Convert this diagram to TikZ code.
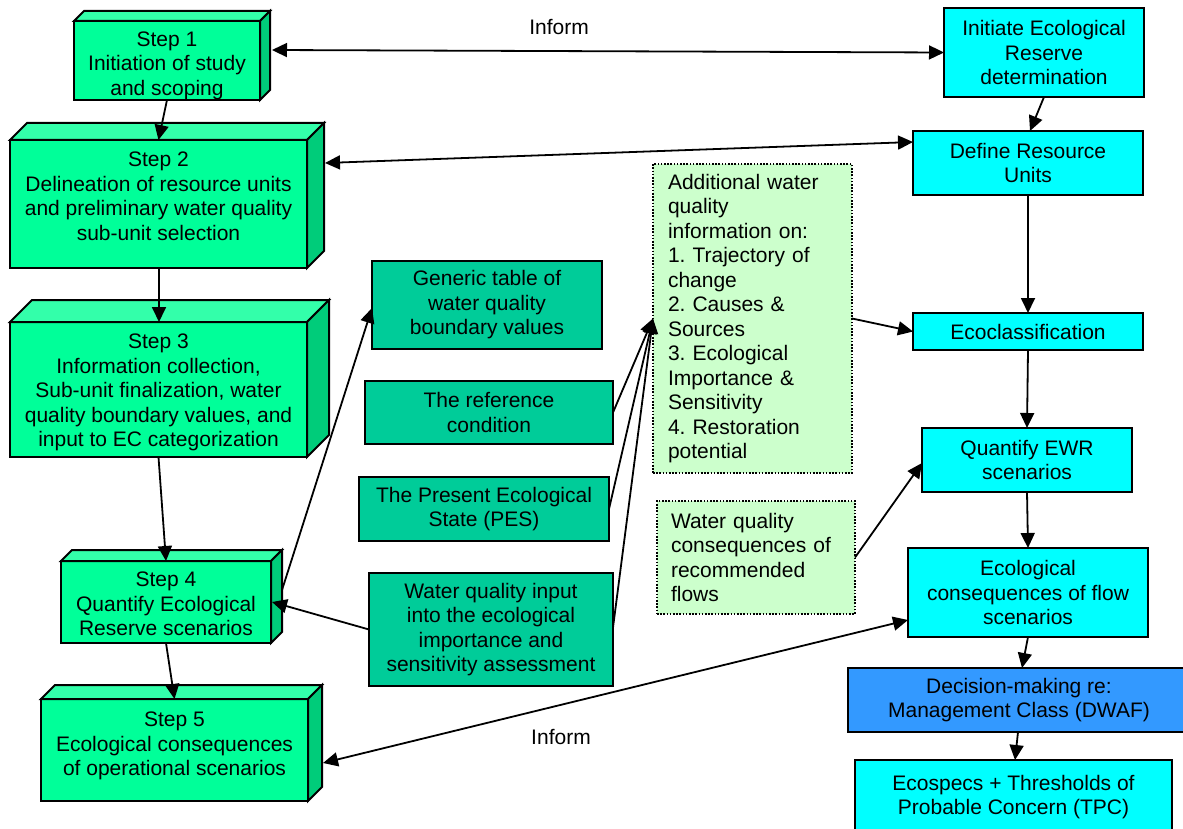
\documentclass[tikz,border=0pt]{standalone}
\usepackage{fontspec}
\setmainfont{Liberation Sans}
\usetikzlibrary{arrows.meta}
\definecolor{stepfront}{HTML}{00FF99}
\definecolor{steptop}{HTML}{33FFAA}
\definecolor{stepside}{HTML}{00CC7A}
\definecolor{midgreen}{HTML}{00CC99}
\definecolor{lightgreen}{HTML}{CCFFCC}
\definecolor{cyanbox}{HTML}{00FFFF}
\definecolor{bluebox}{HTML}{3399FF}
\newcommand\drawdepth[2]{%
  \draw[line width=2pt, fill=steptop] (#1.north west) -- ++(#2,-#2) -- ([shift={(#2,-#2)}]#1.north east) -- (#1.north east) -- cycle;
  \draw[line width=2pt, fill=stepside] (#1.north east) -- ++(#2,-#2) -- ([shift={(#2,-#2)}]#1.south east) -- (#1.south east) -- cycle;
}
\frenchspacing
\begin{document}
\begin{tikzpicture}[x=1pt,y=-1pt,
  every node/.style={font=\fontsize{21}{24.5}\selectfont, inner sep=0pt, outer sep=0pt},
  box/.style={draw=black, line width=2pt, align=center},
  stepbox/.style={box, fill=stepfront},
  steptext/.style={align=center},
  midbox/.style={box, fill=midgreen},
  cyanb/.style={box, fill=cyanbox},
  blueb/.style={box, fill=bluebox},
  notebox/.style={draw=black, line width=1.6pt, dash pattern=on 1.6pt off 1.6pt, fill=lightgreen, align=left},
  conn/.style={line width=1.8pt, >={Triangle[length=15pt,width=14pt]}},
  lbl/.style={font=\fontsize{21}{24}\selectfont}
]
\fill[white] (0,0) rectangle (1183,829);
\useasboundingbox (0,0) rectangle (1183,829);

% Step boxes (left column)
\node[stepbox, minimum width=186pt, minimum height=79pt] (s1) at (167,60.5) {};
\drawdepth{s1}{10}
\node[steptext] (s1t) at (167,65.5) {Step 1\\Initiation of study\\and scoping};
\node[stepbox, minimum width=297pt, minimum height=128pt] (s2) at (158.5,204) {};
\drawdepth{s2}{17}
\node[steptext] (s2t) at (158.5,196.5) {Step 2\\Delineation of resource units\\and preliminary water quality\\sub-unit selection};
\node[stepbox, minimum width=297pt, minimum height=135pt] (s3) at (158.5,389.5) {};
\drawdepth{s3}{22}
\node[steptext] (s3t) at (158.5,392.5) {Step 3\\Information collection,\\Sub-unit finalization, water\\quality boundary values, and\\input to EC categorization};
\node[stepbox, minimum width=210pt, minimum height=82pt] (s4) at (166,602) {};
\drawdepth{s4}{11}
\node[steptext] (s4t) at (166,604) {Step 4\\Quantify Ecological\\Reserve scenarios};
\node[stepbox, minimum width=267pt, minimum height=102pt] (s5) at (174.5,750) {};
\drawdepth{s5}{14}
\node[steptext] (s5t) at (174.5,746) {Step 5\\Ecological consequences\\of operational scenarios};

% Middle boxes
\node[midbox, minimum width=230pt, minimum height=88pt] (gen) at (487,305) {Generic table of\\water quality\\boundary values};
\node[midbox, minimum width=248pt, minimum height=63pt] (ref) at (489,412.5) {The reference\\condition};
\node[midbox, minimum width=250pt, minimum height=64pt] (pes) at (484,509) {The Present Ecological\\State (PES)};
\node[midbox, minimum width=244pt, minimum height=113pt] (wqi) at (491,629.5) {Water quality input\\into the ecological\\importance and\\sensitivity assessment};

% Note boxes
\node[notebox, text width=169pt, inner xsep=15pt, minimum height=309pt] (add) at (752.5,318.5) {Additional water\\quality\\information on:\\1. Trajectory of\\change\\2. Causes \&\\Sources\\3. Ecological\\Importance \&\\Sensitivity\\4. Restoration\\potential};
\node[notebox, text width=170pt, inner xsep=14pt, minimum height=113pt] (wqc) at (756,557.5) {Water quality\\consequences of\\recommended\\flows};

% Right column
\node[cyanb, minimum width=200pt, minimum height=89pt] (init) at (1044,52.5) {Initiate Ecological\\Reserve\\determination};
\node[cyanb, minimum width=230pt, minimum height=64pt] (def) at (1028,163) {Define Resource\\Units};
\node[cyanb, minimum width=230pt, minimum height=37pt] (eco) at (1028,331.5) {Ecoclassification};
\node[cyanb, minimum width=210pt, minimum height=64pt] (qew) at (1027,460) {Quantify EWR\\scenarios};
\node[cyanb, minimum width=240pt, minimum height=89pt] (ecc) at (1028,592.5) {Ecological\\consequences of flow\\scenarios};
\node[blueb, minimum width=342pt, minimum height=64pt] (dec) at (1019,700) {Decision-making re:\\Management Class (DWAF)};
\node[cyanb, minimum width=317pt, minimum height=74pt] (tpc) at (1013.5,797) {Ecospecs + Thresholds of\\Probable Concern (TPC)};

% Labels
\node[lbl] (inform1) at (559,27) {Inform};
\node[lbl] (inform2) at (561,737) {Inform};

% Connectors
\draw[conn,<->] ([shift={(12,-10.5)}]s1.east) -- (init.west);
\draw[conn,->] (s1.south) -- (s2.north);
\draw[conn,<->] ([shift={(18,-41)}]s2.east) -- ([shift={(0,-21)}]def.west);
\draw[conn,->] ([xshift=0.5pt]s2.south) -- ([xshift=0.5pt]s3.north);
\draw[conn,->] (s3.south) -- (s4.north);
\draw[conn,->] ([shift={(11,-12)}]s4.east) -- ([shift={(0,3)}]gen.west);
\draw[conn,->] (wqi.west) -- ([xshift=1pt]s4.east);
\draw[conn,->] (s4.south) -- (s5.north);
\draw[conn,<->] ([shift={(15,13)}]s5.east) -- ([shift={(0,27.5)}]ecc.west);
\draw[conn,->] (ref.east) -- (add.west);
\draw[conn,->] (pes.east) -- (add.west);
\draw[conn,->] ([shift={(0,-2)}]wqi.east) -- (add.west);
\draw[conn,->] (add.east) -- (eco.west);
\draw[conn,->] (wqc.east) -- ([shift={(0,3)}]qew.west);
\draw[conn,->] (init.south) -- ([xshift=2pt]def.north);
\draw[conn,->] (def.south) -- (eco.north);
\draw[conn,->] (eco.south) -- (qew.north);
\draw[conn,->] (qew.south) -- (ecc.north);
\draw[conn,->] (ecc.south) -- ([xshift=3pt]dec.north);
\draw[conn,->] ([xshift=-1pt]dec.south) -- ([xshift=1.5pt]tpc.north);
\end{tikzpicture}
\end{document}
